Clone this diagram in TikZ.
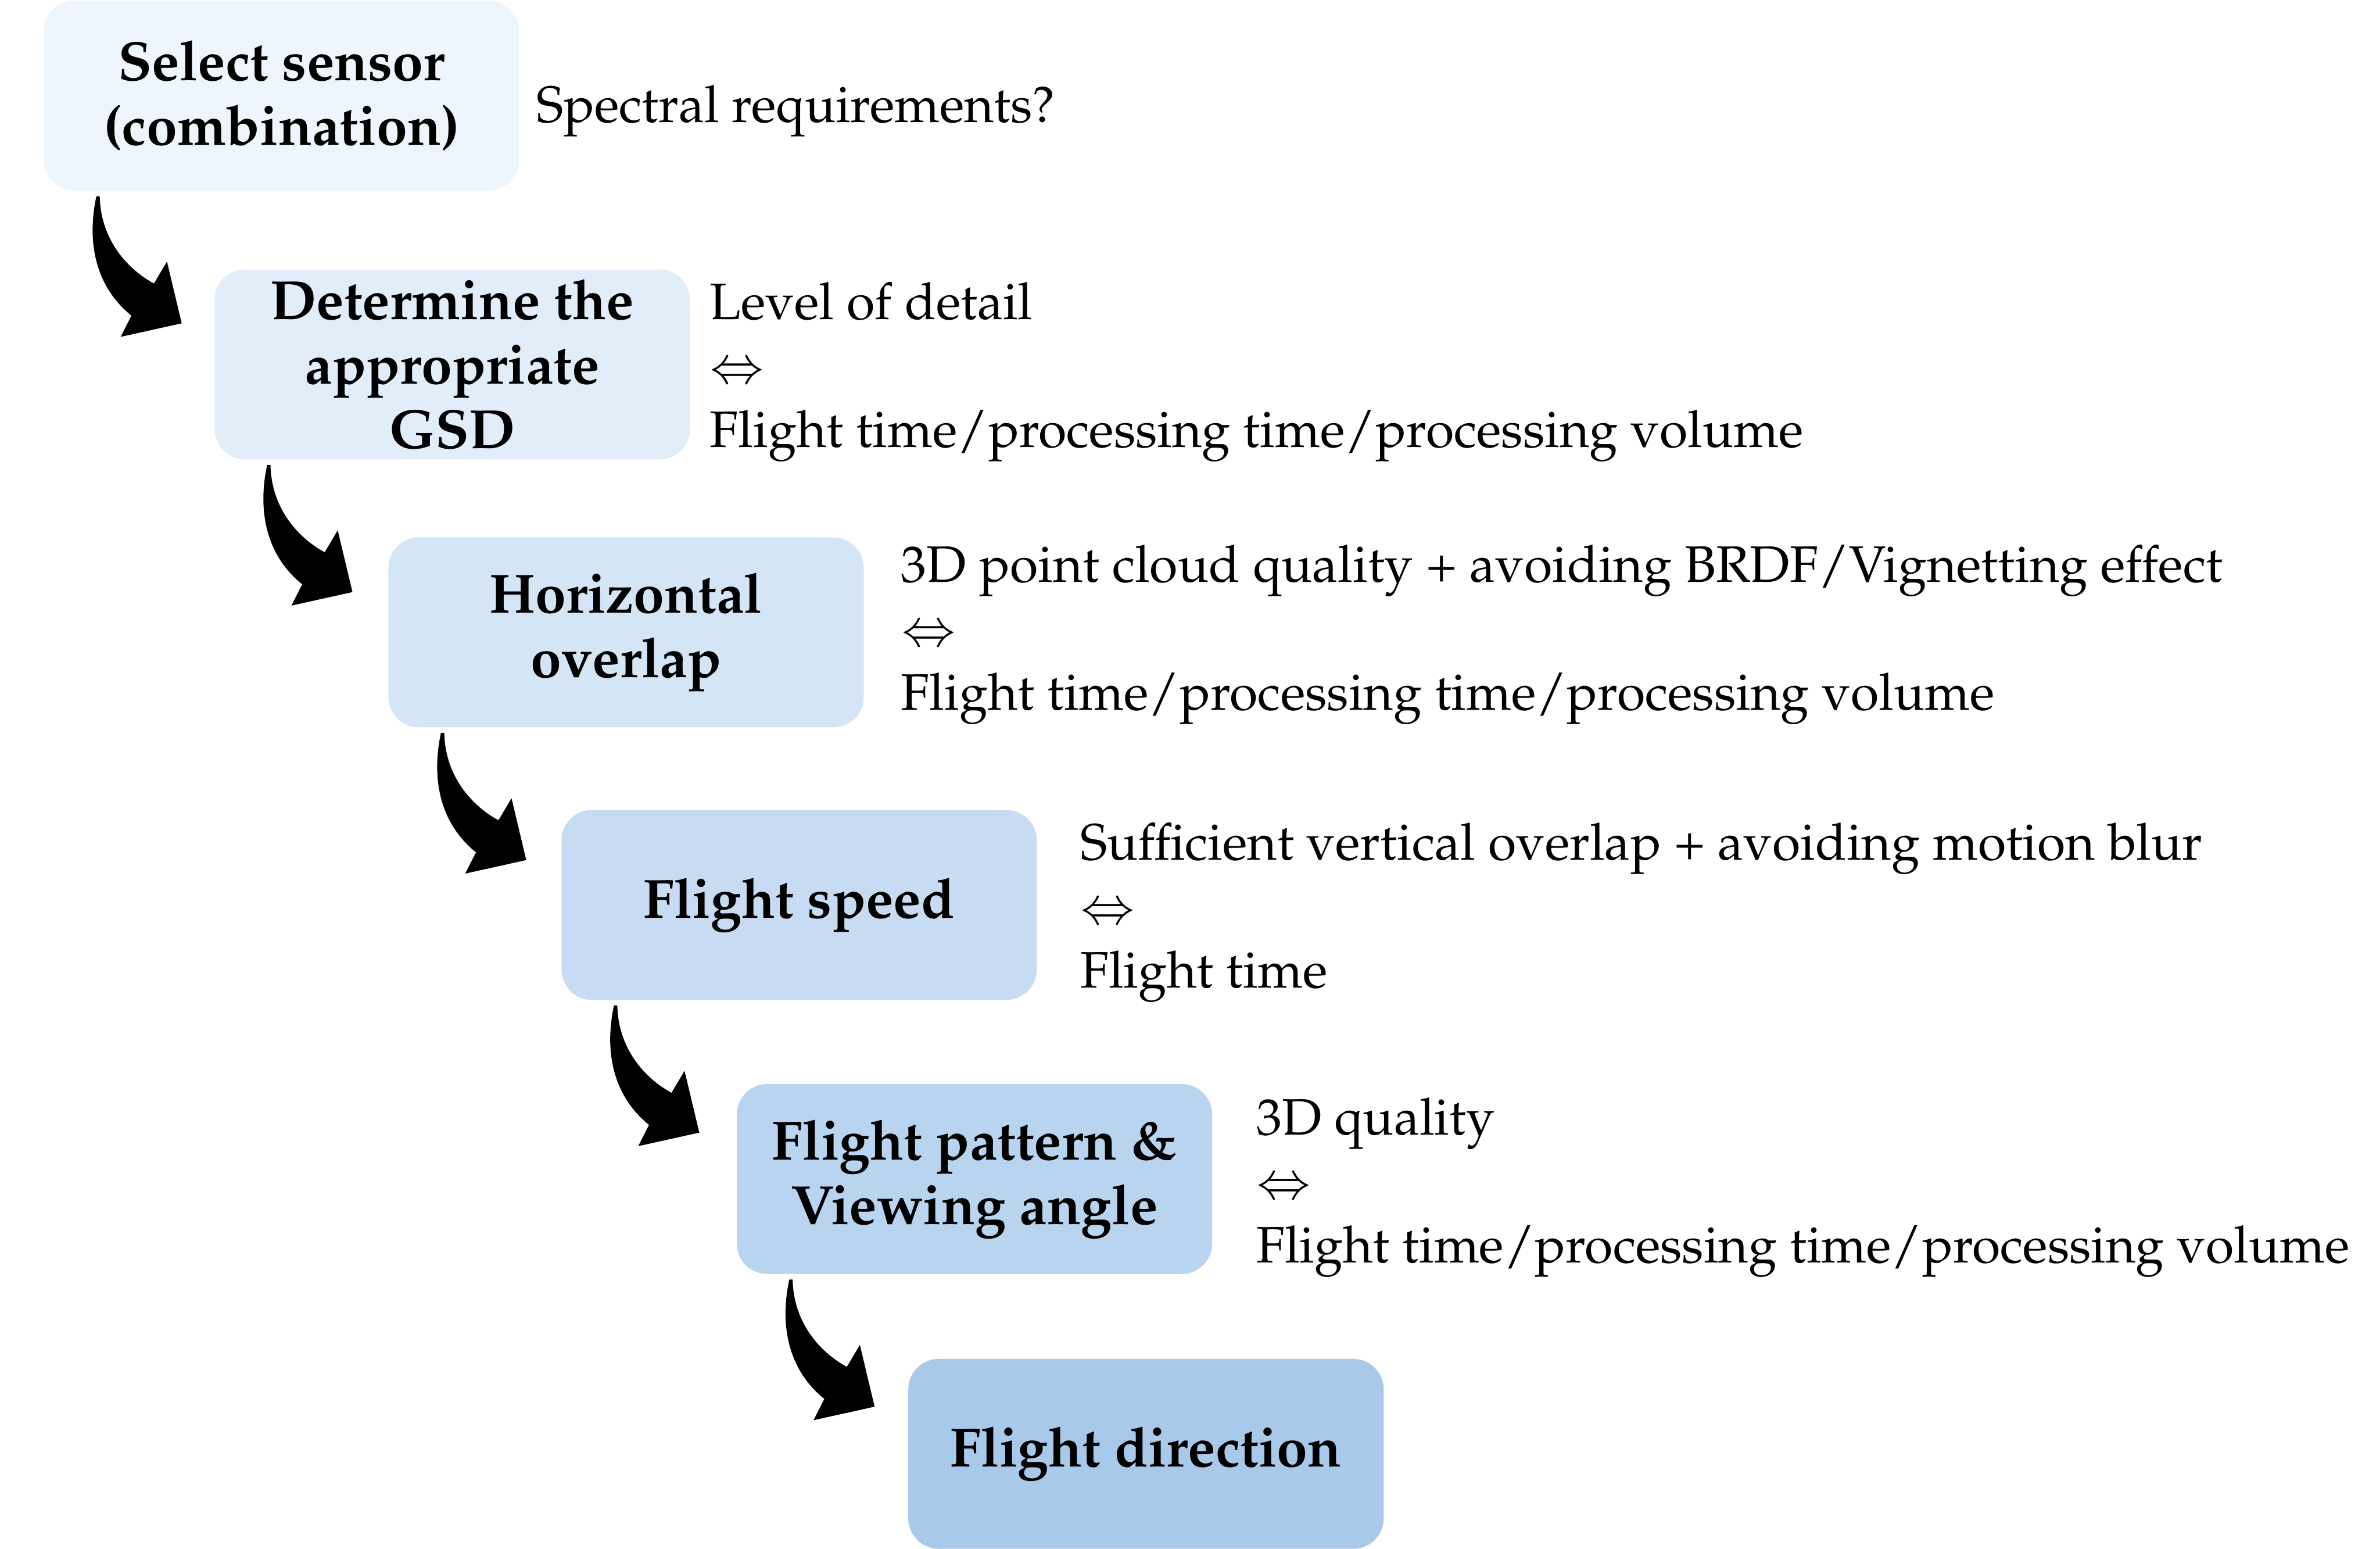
\documentclass[tikz,border=0pt]{standalone}
\usepackage[T1]{fontenc}
\usepackage{mathpazo}
\definecolor{stepA}{HTML}{EFF5FC}
\definecolor{stepB}{HTML}{E1EDF9}
\definecolor{stepC}{HTML}{D4E5F6}
\definecolor{stepD}{HTML}{C7DCF2}
\definecolor{stepE}{HTML}{B9D4EF}
\definecolor{stepF}{HTML}{A9C9EA}
\begin{document}
\begin{tikzpicture}[x=0.01cm,y=-0.01cm,
  stepbox/.style={rounded corners=0.2cm,minimum width=3.13cm,minimum height=1.25cm,
    inner sep=0pt,align=center,font=\fontsize{10.35}{12.1}\selectfont\bfseries},
  note/.style={anchor=west,align=left,inner sep=0pt,font=\fontsize{9.6}{12}\selectfont}]
  \useasboundingbox (0,0) rectangle (1568,1020);
  % stufen
  \node[stepbox,fill=stepA] (b1) at (185.5,63) {Select sensor\\(combination)};
  \node[stepbox,fill=stepB] (b2) at (298,240) {Determine the\\appropriate\\GSD};
  \node[stepbox,fill=stepC] (b3) at (412.5,416.5) {Horizontal\\overlap};
  \node[stepbox,fill=stepD] (b4) at (526.5,596) {Flight speed};
  \node[stepbox,fill=stepE] (b5) at (642,776.5) {Flight pattern \&\\Viewing angle};
  \node[stepbox,fill=stepF] (b6) at (755,957.5) {Flight direction};
  % abwaegungen
  \node[note] (n1) at (353,73) {Spectral requirements?};
  \node[note] (n2) at (467,245) {Level of detail\\$\Leftrightarrow$\\Flight time/processing time/processing volume};
  \node[note] (n3) at (593,418) {3D point cloud quality + avoiding BRDF/Vignetting effect\\$\Leftrightarrow$\\Flight time/processing time/processing volume};
  \node[note] (n4) at (711,601) {Sufficient vertical overlap + avoiding motion blur\\$\Leftrightarrow$\\Flight time};
  \node[note] (n5) at (827,782) {3D quality\\$\Leftrightarrow$\\Flight time/processing time/processing volume};
  % gebogene pfeile
  \foreach \s in {b1,b2,b3,b4,b5}
    \fill[shift={(\s.south west)}] (35.3,3) .. controls (29,32) and (34,62) .. (58.4,81.6)
      -- (51.3,95.6) -- (91.5,86.7) -- (81.8,46) -- (73.2,60.5)
      .. controls (54,50) and (38,30) .. (37.5,3) -- cycle;
\end{tikzpicture}
\end{document}
